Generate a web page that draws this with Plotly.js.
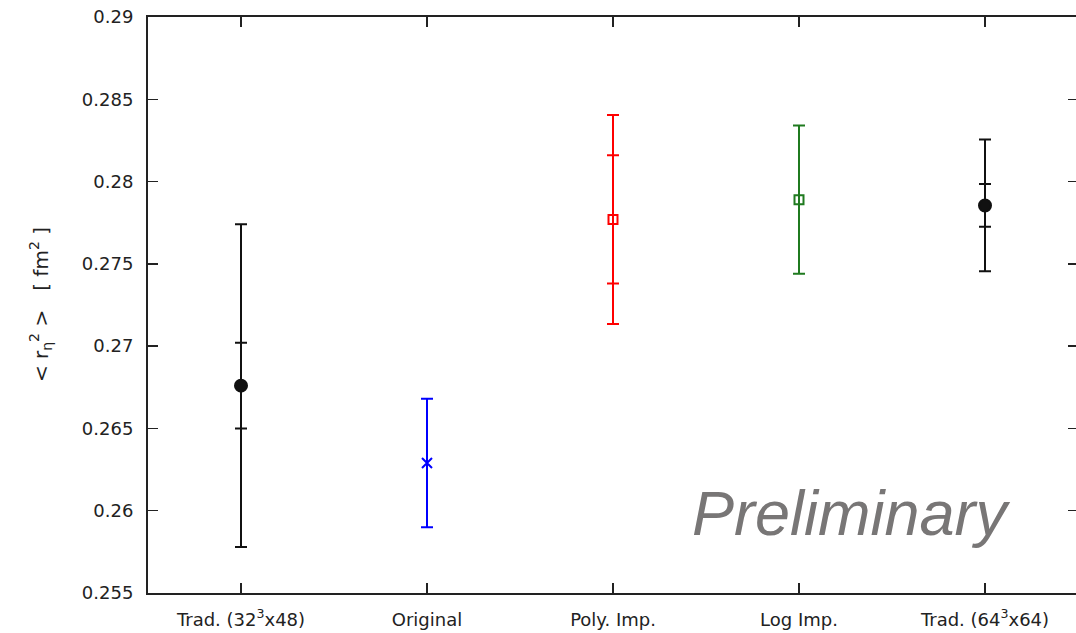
<!DOCTYPE html>
<html>
<head>
<meta charset="utf-8">
<script src="https://cdn.plot.ly/plotly-3.0.1.min.js"></script>
<style>
html,body{margin:0;padding:0;overflow:hidden;background:#fff;}
#chart{width:1082px;height:633px;}
</style>
</head>
<body>
<div id="chart"></div>
<script>
// Data
const categories = ['Trad. (32<sup>3</sup>x48)', 'Original', 'Poly. Imp.', 'Log Imp.', 'Trad. (64<sup>3</sup>x64)'];
const values     = [0.2676, 0.2629, 0.2777, 0.2789, 0.27855];
const errOuter   = [0.0098, 0.0039, 0.00635, 0.0045, 0.0040];
const errInner   = [0.0026, null, 0.0039, null, 0.0013];
const yTickVals  = [0.255, 0.26, 0.265, 0.27, 0.275, 0.28, 0.285, 0.29];
const yTickText  = ['0.255', '0.26', '0.265', '0.27', '0.275', '0.28', '0.285', '0.29'];

// Styles
const colors  = ['#111111', '#0000ff', '#ff0000', '#1f7a1f', '#111111'];
const symbols = ['circle', 'x-thin-open', 'square-open', 'square-open', 'circle'];
const sizes   = [12, 10, 9, 9, 12];

const traces = [];
categories.forEach((c, i) => {
  if (errInner[i] !== null) {
    traces.push({
      x: [c], y: [values[i]], type: 'scatter', mode: 'markers',
      marker: {size: 1, opacity: 0},
      error_y: {type: 'data', array: [errInner[i]], visible: true, color: colors[i], thickness: 2, width: 6},
      showlegend: false, hoverinfo: 'skip'
    });
  }
  traces.push({
    x: [c], y: [values[i]], type: 'scatter', mode: 'markers',
    marker: {symbol: symbols[i], size: sizes[i], color: colors[i], line: {color: colors[i], width: 2}},
    error_y: {type: 'data', array: [errOuter[i]], visible: true, color: colors[i], thickness: 2, width: 6},
    showlegend: false
  });
});

const axisFont = {family: 'DejaVu Sans, sans-serif', size: 18, color: '#222'};

const layout = {
  width: 1082, height: 633,
  margin: {l: 148, r: 4, t: 17, b: 40},
  paper_bgcolor: '#fff', plot_bgcolor: '#fff',
  showlegend: false,
  xaxis: {
    type: 'category', categoryorder: 'array', categoryarray: categories,
    range: [-0.5, 4.5],
    showgrid: false, zeroline: false,
    showline: true, linecolor: '#222', linewidth: 2, mirror: 'allticks',
    ticks: 'inside', ticklen: 10, tickwidth: 1.5, tickcolor: '#222',
    tickfont: axisFont, ticklabelstandoff: 9
  },
  yaxis: {
    range: [0.255, 0.29],
    tickvals: yTickVals, ticktext: yTickText,
    showgrid: false, zeroline: false,
    showline: true, linecolor: '#222', linewidth: 2, mirror: 'allticks',
    ticks: 'inside', ticklen: 10, tickwidth: 1.5, tickcolor: '#222',
    tickfont: axisFont, ticklabelstandoff: 9
  },
  annotations: [
    {
      text: '< r<sub>η</sub><sup>2</sup> >\u00a0\u00a0\u00a0[ fm<sup>2</sup> ]',
      xref: 'paper', yref: 'paper', x: -0.116, y: 0.5,
      xanchor: 'center', yanchor: 'middle', textangle: -90, showarrow: false,
      font: {family: 'DejaVu Sans, sans-serif', size: 20, color: '#222'}
    },
    {
      text: 'Preliminary',
      xref: 'paper', yref: 'paper', x: 0.583, y: 0.075,
      xanchor: 'left', yanchor: 'bottom', showarrow: false,
      font: {family: 'Liberation Sans, Arial, sans-serif', size: 63, color: '#787676', style: 'italic'}
    }
  ]
};

Plotly.newPlot('chart', traces, layout, {staticPlot: true, displayModeBar: false});
</script>
</body>
</html>
